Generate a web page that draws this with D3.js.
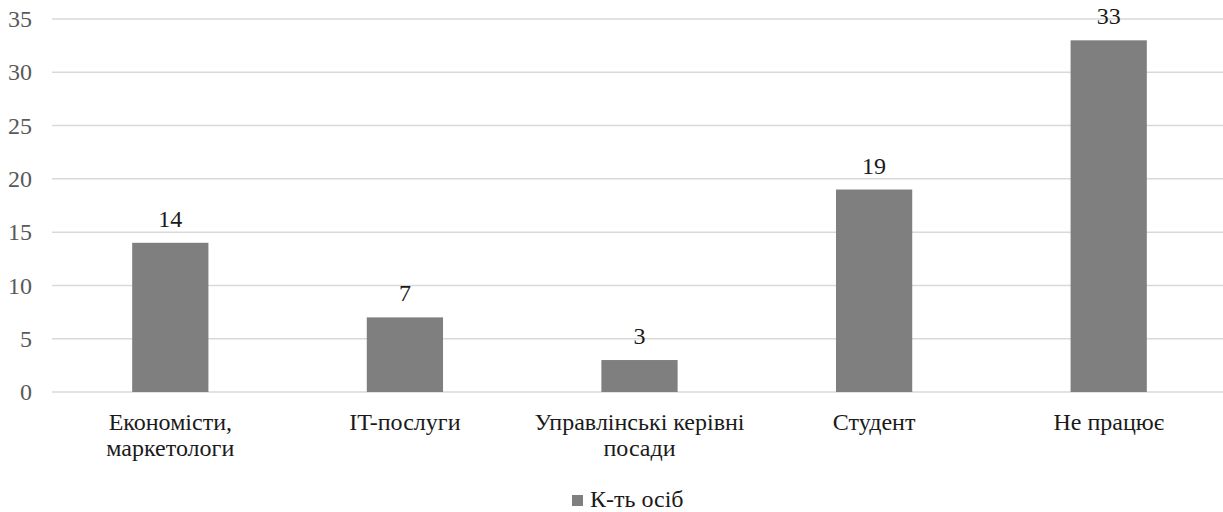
<!DOCTYPE html>
<html>
<head>
<meta charset="utf-8">
<script src="https://cdn.jsdelivr.net/npm/d3@7"></script>
<style>
  body { margin: 0; background: #fff; }
</style>
</head>
<body>
<script>
var categories = ["Економісти, маркетологи", "IT-послуги", "Управлінські керівні посади", "Студент", "Не працює"];
var values = [14, 7, 3, 19, 33];
var yTicks = [0, 5, 10, 15, 20, 25, 30, 35];
var seriesName = "К-ть осіб";

var FONT = "'Liberation Serif', Tinos, 'Times New Roman', serif";
var FS = "24px";
var W = 1223, H = 512;
var margin = {top: 19, right: -3, bottom: 120, left: 53};
var width = W - margin.left - margin.right,
    height = H - margin.top - margin.bottom;

var svg = d3.select("body").append("svg")
    .attr("width", W)
    .attr("height", H);

var g = svg.append("g")
    .attr("transform", "translate(" + margin.left + "," + margin.top + ")");

var x = d3.scaleBand()
    .domain(categories)
    .range([0, width])
    .paddingInner(0.675)
    .paddingOuter(0.3375);

var y = d3.scaleLinear()
    .domain([0, 35])
    .range([height, 0]);

// gridlines
g.selectAll(".grid")
  .data(yTicks)
  .enter().append("line")
    .attr("x1", -1)
    .attr("x2", width)
    .attr("y1", function(d){ return y(d); })
    .attr("y2", function(d){ return y(d); })
    .attr("stroke", "#d9d9d9")
    .attr("stroke-width", 1.5);

// y axis labels
var yAxis = d3.axisLeft(y).tickValues(yTicks).tickSize(0).tickPadding(21);
var ya = g.append("g").call(yAxis);
ya.select(".domain").remove();
ya.selectAll("text")
    .style("font-family", FONT)
    .style("font-size", FS)
    .attr("fill", "#595959");

// bars
g.selectAll(".bar")
  .data(values)
  .enter().append("rect")
    .attr("x", function(d, i){ return x(categories[i]); })
    .attr("width", x.bandwidth())
    .attr("y", function(d){ return y(d); })
    .attr("height", function(d){ return height - y(d); })
    .attr("fill", "#7f7f7f");

// value labels
g.selectAll(".val")
  .data(values)
  .enter().append("text")
    .attr("x", function(d, i){ return x(categories[i]) + x.bandwidth() / 2; })
    .attr("y", function(d){ return y(d) - 16; })
    .attr("text-anchor", "middle")
    .style("font-family", FONT)
    .style("font-size", FS)
    .attr("fill", "#1a1a1a")
    .text(function(d){ return d; });

// category labels, wrapped
var xAxis = d3.axisBottom(x).tickSize(0).tickPadding(0);
var xa = g.append("g")
    .attr("transform", "translate(0," + height + ")")
    .call(xAxis);
xa.select(".domain").remove();
xa.selectAll("text")
    .style("font-family", FONT)
    .style("font-size", FS)
    .attr("fill", "#1a1a1a")
    .call(wrap, 235);

function wrap(sel, maxW) {
  sel.each(function() {
    var t = d3.select(this),
        words = t.text().split(/\s+/),
        line = [],
        lineNo = 0,
        tspan = t.text(null).attr("y", null).attr("dy", null)
                 .append("tspan").attr("x", 0).attr("y", 38);
    words.forEach(function(w) {
      line.push(w);
      tspan.text(line.join(" "));
      if (tspan.node().getComputedTextLength() > maxW && line.length > 1) {
        line.pop();
        tspan.text(line.join(" "));
        line = [w];
        lineNo++;
        tspan = t.append("tspan").attr("x", 0).attr("y", 38 + lineNo * 26).text(w);
      }
    });
  });
}

// legend
var lg = svg.append("g").attr("transform", "translate(572,495)");
lg.append("rect")
    .attr("width", 11).attr("height", 11)
    .attr("fill", "#7f7f7f");
lg.append("text")
    .attr("x", 18).attr("y", 12)
    .style("font-family", FONT)
    .style("font-size", FS)
    .attr("fill", "#1a1a1a")
    .text(seriesName);
</script>
</body>
</html>
